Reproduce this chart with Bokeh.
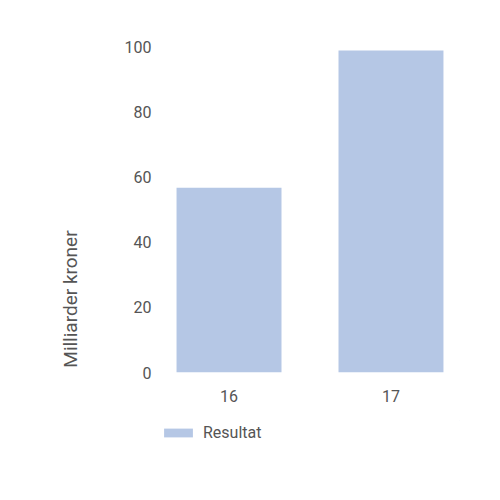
import math
from bokeh.plotting import figure
from bokeh.layouts import column
from bokeh.models import FactorRange, Range1d, Legend, LegendItem, FixedTicker, ColumnDataSource
from bokeh.embed import file_html
from bokeh.resources import INLINE

categories = ["16", "17"]
resultat = [56.7, 98.8]
y_ticks = [0, 20, 40, 60, 80, 100]
y_label = "Milliarder kroner"
series_name = "Resultat"

FONT = "Roboto"
TXT = "#555555"
BAR = "#b5c7e5"

src = ColumnDataSource(dict(cat=categories, val=resultat))

p = figure(width=492, height=420, output_backend="svg", toolbar_location=None,
           x_range=FactorRange(factors=categories, range_padding=-0.077, range_padding_units="absolute"),
           y_range=Range1d(0, 100),
           min_border_left=160, min_border_right=33, min_border_top=46, min_border_bottom=48)
p.outline_line_color = None
p.grid.grid_line_color = None

r = p.vbar(x="cat", top="val", width=0.648, source=src, fill_color=BAR, line_color=None)

for ax in (p.xaxis[0], p.yaxis[0]):
    ax.axis_line_color = None
    ax.major_tick_line_color = None
    ax.minor_tick_line_color = None
    ax.major_tick_out = 0
    ax.major_tick_in = 0
    ax.major_label_text_font = FONT
    ax.major_label_text_font_size = "16px"
    ax.major_label_text_color = TXT

p.yaxis.ticker = FixedTicker(ticks=y_ticks)
p.yaxis.major_label_standoff = 9
p.xaxis.major_label_standoff = 17

# axis title sits low on the axis in the reference: pad its end with no-break spaces
p.yaxis.axis_label = y_label + "\u00a0" * 38
p.yaxis.axis_label_text_font = FONT
p.yaxis.axis_label_text_font_size = "19px"
p.yaxis.axis_label_text_font_style = "normal"
p.yaxis.axis_label_text_color = TXT
p.yaxis.axis_label_standoff = 40

# legend strip under the chart (dummy bar lies outside its visible range)
pl = figure(width=492, height=40, output_backend="svg", toolbar_location=None,
            x_range=Range1d(0, 1), y_range=Range1d(0, 1), x_axis_type=None, y_axis_type=None,
            min_border_left=0, min_border_right=0, min_border_top=0, min_border_bottom=0)
pl.outline_line_color = None
pl.grid.grid_line_color = None
r2 = pl.vbar(x=[5], top=[5], bottom=[4], width=0.5, fill_color=BAR, line_color=None)

legend = Legend(items=[LegendItem(label=series_name, renderers=[r2])], location=(0, 18),
                glyph_width=36, glyph_height=11, label_text_font=FONT, label_text_font_size="16px",
                label_text_color=TXT, label_standoff=7, padding=0, margin=0, border_line_color=None,
                background_fill_alpha=0)
pl.add_layout(legend, "center")

layout = column(p, pl, spacing=0)
open("out.html", "w").write(file_html(layout, INLINE))
